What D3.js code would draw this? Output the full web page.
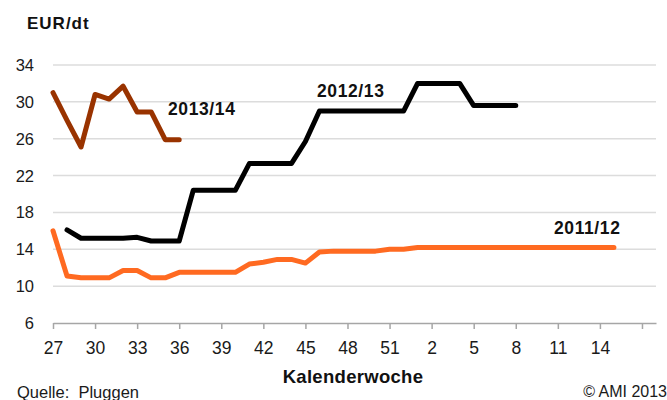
<!DOCTYPE html>
<html>
<head>
<meta charset="utf-8">
<script src="https://cdn.jsdelivr.net/npm/d3@7"></script>
<style>
  body { margin: 0; background: #fff; }
  svg { display: block; font-family: "Liberation Sans", Arial, sans-serif; }
</style>
</head>
<body>
<div id="chart"></div>
<script>
// Categories: calendar weeks of the season (27..52, then 1..18)
const weeks = [27, 28, 29, 30, 31, 32, 33, 34, 35, 36, 37, 38, 39, 40, 41, 42, 43, 44, 45, 46, 47, 48, 49, 50, 51, 52,
               1, 2, 3, 4, 5, 6, 7, 8, 9, 10, 11, 12, 13, 14, 15, 16, 17, 18];
const tickWeeks = [27, 30, 33, 36, 39, 42, 45, 48, 51, 2, 5, 8, 11, 14, 17];
const tickLabels = ["27", "30", "33", "36", "39", "42", "45", "48", "51", "2", "5", "8", "11", "14", ""];
const yTicks = [6, 10, 14, 18, 22, 26, 30, 34];

// Series values, each starting at the given week
const start1314 = 27;
const values1314 = [31.0, 28.0, 25.1, 30.8, 30.3, 31.7, 28.9, 28.9, 25.9, 25.9];

const start1213 = 28;
const values1213 = [16.1, 15.2, 15.2, 15.2, 15.2, 15.3, 14.9, 14.9, 14.9,
                    20.4, 20.4, 20.4, 20.4, 23.3, 23.3, 23.3, 23.3, 25.7,
                    29.0, 29.0, 29.0, 29.0, 29.0, 29.0, 29.0,
                    32.0, 32.0, 32.0, 32.0, 29.6, 29.6, 29.6, 29.6];

const start1112 = 27;
const values1112 = [16.0, 11.1, 10.9, 10.9, 10.9, 11.7, 11.7, 10.9, 10.9, 11.5, 11.5, 11.5, 11.5, 11.5,
                    12.4, 12.6, 12.9, 12.9, 12.5, 13.7, 13.8, 13.8, 13.8, 13.8, 14.0, 14.0,
                    14.2, 14.2, 14.2, 14.2, 14.2, 14.2, 14.2, 14.2, 14.2, 14.2, 14.2, 14.2, 14.2, 14.2, 14.2];

const width = 667, height = 400;

const svg = d3.select("#chart")
    .append("svg")
    .attr("width", width)
    .attr("height", height);

// Scales (x works on the position of the week in the season)
const x = d3.scaleLinear()
    .domain([0, weeks.length - 1])
    .range([53, 656]);

const y = d3.scaleLinear()
    .domain([6, 34])
    .range([323, 65]);

const idx = w => weeks.indexOf(w);

// Gridlines
svg.append("g")
    .selectAll("line")
    .data(yTicks.filter(t => t > 6))
    .join("line")
    .attr("x1", x(0))
    .attr("x2", x(weeks.length - 1))
    .attr("y1", d => y(d))
    .attr("y2", d => y(d))
    .attr("stroke", "#dcdcdc")
    .attr("stroke-width", 1.5);

// Y axis labels
svg.append("g")
    .selectAll("text")
    .data(yTicks)
    .join("text")
    .attr("x", 34)
    .attr("y", d => y(d) + 6)
    .attr("text-anchor", "end")
    .attr("font-size", 16.5)
    .attr("fill", "#1a1a1a")
    .text(d => d);

// X axis
const xAxis = d3.axisBottom(x)
    .tickValues(tickWeeks.map(idx))
    .tickFormat((d, i) => tickLabels[i])
    .tickSize(6)
    .tickSizeOuter(0);

const gx = svg.append("g")
    .attr("transform", `translate(0,${y(6)})`)
    .call(xAxis);
gx.select(".domain").attr("stroke", "#a6a6a6").attr("stroke-width", 1.5);
gx.selectAll(".tick line").attr("stroke", "#a6a6a6").attr("stroke-width", 1.5);
gx.selectAll(".tick text")
    .attr("dy", 0)
    .attr("y", 31)
    .attr("font-size", 17.5)
    .attr("font-family", "Liberation Sans, Arial, sans-serif")
    .attr("fill", "#1a1a1a");

// Lines
const line = d3.line()
    .x(d => x(d.i))
    .y(d => y(d.v));

const series = [
    { name: "2011/12", start: start1112, values: values1112, color: "#ff6a21" },
    { name: "2012/13", start: start1213, values: values1213, color: "#000000" },
    { name: "2013/14", start: start1314, values: values1314, color: "#993300" }
];

svg.append("g")
    .selectAll("path")
    .data(series)
    .join("path")
    .attr("fill", "none")
    .attr("stroke", d => d.color)
    .attr("stroke-width", 5)
    .attr("stroke-linejoin", "round")
    .attr("stroke-linecap", "round")
    .attr("d", d => line(d.values.map((v, k) => ({ i: idx(d.start) + k, v }))));

// Series labels
const labels = [
    { text: "2013/14", x: 168, y: 115 },
    { text: "2012/13", x: 317, y: 97 },
    { text: "2011/12", x: 554, y: 234 }
];
svg.append("g")
    .selectAll("text")
    .data(labels)
    .join("text")
    .attr("x", d => d.x)
    .attr("y", d => d.y)
    .attr("font-size", 17.5)
    .attr("font-weight", "bold")
    .attr("letter-spacing", 0.6)
    .attr("fill", "#111")
    .text(d => d.text);

// Titles and notes
svg.append("text")
    .attr("x", 27).attr("y", 29)
    .attr("font-size", 17).attr("font-weight", "bold")
    .attr("letter-spacing", 1)
    .attr("fill", "#111")
    .text("EUR/dt");

svg.append("text")
    .attr("x", 353).attr("y", 383)
    .attr("text-anchor", "middle")
    .attr("font-size", 18.5).attr("font-weight", "bold")
    .attr("letter-spacing", 0.3)
    .attr("fill", "#111")
    .text("Kalenderwoche");

svg.append("text")
    .attr("x", 17).attr("y", 398)
    .attr("font-size", 16.5)
    .attr("fill", "#1a1a1a")
    .style("white-space", "pre")
    .text("Quelle:  Pluggen");

svg.append("text")
    .attr("x", 667).attr("y", 397)
    .attr("text-anchor", "end")
    .attr("font-size", 16)
    .attr("fill", "#1a1a1a")
    .text("© AMI 2013");
</script>
</body>
</html>
